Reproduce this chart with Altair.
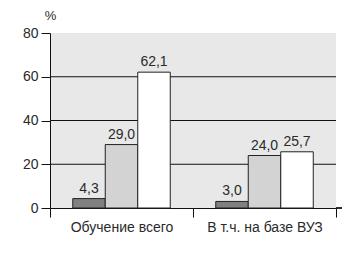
import altair as alt
import pandas as pd

groups = ["Обучение всего", "В т.ч. на базе ВУЗ"]
series_names = ["s1", "s2", "s3"]
s1_values = [4.3, 3.0]
s2_values = [29.0, 24.0]
s3_values = [62.1, 25.7]
y_ticks = [0, 20, 40, 60, 80]
grid_values = [20, 40, 60]
colors = ["#808080", "#d3d3d3", "#ffffff"]

rows = []
for i, g in enumerate(groups):
    for s, vals in zip(series_names, [s1_values, s2_values, s3_values]):
        rows.append({"group": g, "series": s, "value": vals[i]})
df = pd.DataFrame(rows)
grid_df = pd.DataFrame({"y": grid_values})

FONT = "Liberation Sans"
TXT = "#2a2a2a"

x_enc = alt.X(
    "group:N", sort=groups,
    scale=alt.Scale(paddingInner=0, paddingOuter=0),
    axis=alt.Axis(title=None, labelAngle=0, tickBand="extent", tickSize=9,
                  tickColor="#111", domainColor="#111", labelPadding=3,
                  labelFontSize=14, labelColor=TXT, labelFont=FONT),
)
xoff_enc = alt.XOffset("series:N", sort=series_names,
                       scale=alt.Scale(paddingOuter=0.7, paddingInner=0))
y_enc = alt.Y(
    "value:Q", scale=alt.Scale(domain=[0, 80]),
    axis=alt.Axis(values=y_ticks, grid=False, tickSize=9, tickColor="#111",
                  domainColor="#111", labelPadding=3, labelFontSize=14,
                  labelColor=TXT, labelFont=FONT, title="%", titleAngle=0,
                  titleX=0, titleY=-18, titleAlign="center", titleBaseline="middle",
                  titleFontWeight="normal", titleFontSize=13, titleColor=TXT,
                  titleFont=FONT),
)

grid = alt.Chart(grid_df).mark_rule(color="#111", strokeWidth=1).encode(
    y=alt.Y("y:Q", scale=alt.Scale(domain=[0, 80]))
)

bars = alt.Chart(df).mark_bar(stroke="#222", strokeWidth=1).encode(
    x=x_enc, xOffset=xoff_enc, y=y_enc,
    color=alt.Color("series:N", sort=series_names,
                    scale=alt.Scale(domain=series_names, range=colors), legend=None),
)

labels = alt.Chart(df).transform_calculate(
    lab="replace(format(datum.value, '.1f'), '.', ',')"
).mark_text(baseline="bottom", dy=-3, fontSize=14, font=FONT, color=TXT).encode(
    x=alt.X("group:N", sort=groups), xOffset=alt.XOffset("series:N", sort=series_names),
    y="value:Q", text="lab:N",
)

ext = alt.Chart(grid_df).mark_rule(color="#111", strokeWidth=1).encode(
    x=alt.value(286), x2=alt.value(292), y=alt.value(175)
)

chart = alt.layer(grid, bars, labels, ext).properties(
    width=286, height=175,
    autosize=alt.AutoSizeParams(type="none"),
    padding={"left": 50, "top": 33, "right": 27, "bottom": 45},
    background="white",
).configure_view(stroke=None, fill="#e8e8e8")

chart.save("out.html", embed_options={"renderer": "svg", "actions": False})
